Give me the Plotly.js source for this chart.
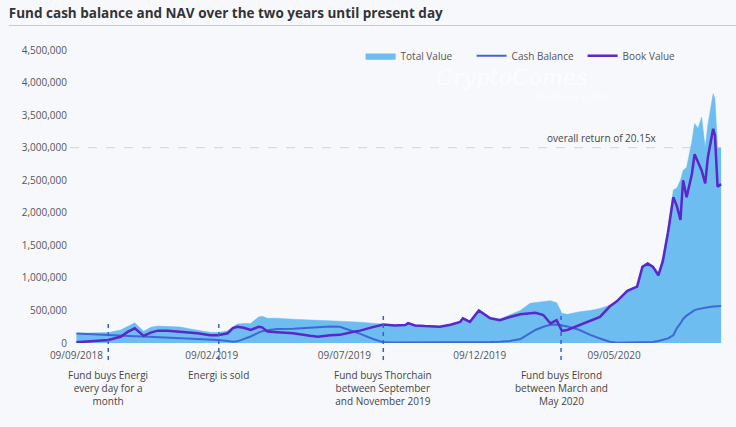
<!DOCTYPE html>
<html>
<head>
<meta charset="utf-8">
<script src="https://cdn.plot.ly/plotly-3.0.1.min.js"></script>
<style>
html,body{margin:0;padding:0;background:#f7f8fc;}
#chart{width:736px;height:427px;}
</style>
</head>
<body>
<div id="chart"></div>
<script>
const dates = ["2018-09-09","2018-09-25","2018-10-15","2018-10-29","2018-11-06","2018-11-14","2018-11-24","2018-12-02","2018-12-10","2018-12-21",
"2019-01-05","2019-01-16","2019-01-24","2019-02-07","2019-02-16","2019-02-27","2019-03-05","2019-03-10","2019-03-17","2019-03-25",
"2019-04-03","2019-04-07","2019-04-13","2019-04-24","2019-05-12","2019-05-31","2019-06-09","2019-06-23","2019-07-04","2019-07-18",
"2019-07-27","2019-08-09","2019-08-22","2019-09-04","2019-09-16","2019-09-19","2019-09-27","2019-10-08","2019-10-25","2019-11-06",
"2019-11-17","2019-11-20","2019-11-28","2019-12-08","2019-12-15","2019-12-21","2020-01-01","2020-01-12","2020-01-24","2020-02-04",
"2020-02-10","2020-02-19","2020-02-27","2020-03-05","2020-03-11","2020-03-17","2020-03-31","2020-04-12","2020-04-23","2020-05-04",
"2020-05-12","2020-05-24","2020-06-04","2020-06-10","2020-06-16","2020-06-22","2020-06-28","2020-07-03","2020-07-09","2020-07-15",
"2020-07-19","2020-07-23","2020-07-26","2020-07-30","2020-08-05","2020-08-08","2020-08-12","2020-08-16","2020-08-20","2020-08-23",
"2020-08-29","2020-08-31","2020-09-03","2020-09-07"];

const cashBalance = [145,138,125,115,110,105,100,95,90,82,
75,70,65,55,45,30,20,25,60,100,
160,180,195,215,220,235,250,255,250,190,
140,70,10,8,8,8,8,8,8,8,
10,10,10,10,12,15,20,30,60,150,
200,250,280,285,270,255,200,125,70,20,
5,5,5,5,5,15,30,50,70,120,
230,300,370,420,480,505,520,535,545,550,
560,562,565,570].map(v => v*1000);

const bookValue = [10,25,45,95,170,225,110,160,190,190,
175,165,150,120,120,150,230,250,235,200,
250,240,175,165,150,110,95,120,125,170,
190,240,285,270,275,305,270,260,250,280,
325,380,325,500,430,380,350,400,440,460,
465,430,300,350,185,200,275,350,400,560,
640,800,865,1170,1220,1170,1040,1250,1700,2240,
2100,1890,2500,2240,2600,2900,2760,2650,2450,2850,
3290,3190,2400,2440].map(v => v*1000);

const totalValue = [150,155,160,200,250,310,180,240,260,250,
245,215,200,165,160,190,250,290,300,300,
400,410,380,380,365,350,345,340,335,330,
320,305,290,275,280,310,275,265,255,285,
330,385,330,505,440,390,370,430,500,610,
620,640,650,620,455,440,480,500,530,580,
640,810,870,1180,1230,1190,1080,1330,1780,2350,
2380,2500,2650,2700,3100,3370,3300,3470,3000,3350,
3830,3750,3000,3000].map(v => v*1000);

const tickDates = ["2018-09-09","2019-02-09","2019-07-09","2019-12-09","2020-05-09"];
const tickLabels = ["09/09/2018","09/02/2019","09/07/2019","09/12/2019","09/05/2020"];
const yTicks = [0,500000,1000000,1500000,2000000,2500000,3000000,3500000,4000000,4500000];
const yTickLabels = ["0","500,000","1,000,000","1,500,000","2,000,000","2,500,000","3,000,000","3,500,000","4,000,000","4,500,000"];

const eventDates = ["2018-10-15","2019-02-17","2019-08-22","2020-03-10"];
const eventLabels = ["Fund buys Energi<br>every day for a<br>month","Energi is sold","Fund buys Thorchain<br>between September<br>and November 2019","Fund buys Elrond<br>between March and<br>May 2020"];
const eventTops = [0.068,0.068,0.105,0.105];

const returnLevel = 3000000;
const returnLabel = "overall return of 20.15x";
const returnLabelDate = "2020-04-25";

const FONT = "Open Sans, sans-serif";

const traces = [
  {x: dates, y: totalValue, name: "Total Value", type: "scatter", mode: "lines",
   fill: "tozeroy", fillcolor: "#6dbdf0", line: {color: "#6dbdf0", width: 0.5}},
  {x: dates, y: cashBalance, name: "Cash Balance", type: "scatter", mode: "lines",
   line: {color: "#4167d6", width: 2}},
  {x: dates, y: bookValue, name: "Book Value", type: "scatter", mode: "lines",
   line: {color: "#5a27c9", width: 2.5}}
];

const shapes = [
  {type: "line", xref: "paper", yref: "paper", x0: -0.097, x1: 1.03, y0: 1.0836, y1: 1.0836,
   line: {color: "#c9cbd2", width: 1}},
  {type: "line", xref: "paper", yref: "y", x0: -0.003, x1: 0.99, y0: returnLevel, y1: returnLevel,
   line: {color: "#cfd3dc", width: 1, dash: "dash"}, layer: "below"}
];
eventDates.forEach((d, i) => {
  shapes.push({type: "line", xref: "x", yref: "paper", x0: d, x1: d, y0: -0.058, y1: eventTops[i],
    line: {color: "#3b5fcf", width: 1.5, dash: "4px,4px"}});
});

const annotations = [
  {xref: "x", yref: "y", x: returnLabelDate, y: returnLevel, text: returnLabel, showarrow: false,
   yanchor: "bottom", yshift: 1, font: {family: FONT, size: 10, color: "#444"}},
  {xref: "paper", yref: "paper", x: 0.795, y: 0.905, text: "<i>CryptoComes</i>", showarrow: false,
   yanchor: "middle", font: {family: "DejaVu Serif, serif", size: 22, color: "rgba(255,255,255,0.7)"}},
  {xref: "paper", yref: "paper", x: 0.83, y: 0.84, text: "The future is here", showarrow: false,
   yanchor: "middle", font: {family: FONT, size: 9, color: "rgba(255,255,255,0.7)"}}
];
eventDates.forEach((d, i) => {
  annotations.push({xref: "x", yref: "paper", x: d, y: -0.078, yanchor: "top", text: eventLabels[i],
    showarrow: false, align: "center", font: {family: FONT, size: 10, color: "#444"}});
});

const layout = {
  width: 736, height: 427,
  paper_bgcolor: "#f7f8fc", plot_bgcolor: "#f7f8fc",
  margin: {l: 72, r: 14, t: 50, b: 84},
  title: {text: "<b>Fund cash balance and NAV over the two years until present day</b>",
    x: 0.012, xanchor: "left", y: 0.97, yanchor: "middle", yref: "container",
    font: {family: FONT, size: 13.5, color: "#333"}},
  showlegend: true,
  legend: {orientation: "h", x: 0.444, xanchor: "left", y: 0.98, yanchor: "middle",
    bgcolor: "rgba(0,0,0,0)", font: {family: FONT, size: 10, color: "#555"}, traceorder: "normal",
    itemwidth: 30, entrywidth: 66, entrywidthmode: "pixels"},
  xaxis: {type: "date", range: ["2018-09-04", "2020-09-08"], tickvals: tickDates, ticktext: tickLabels,
    showgrid: false, zeroline: false, showline: false, ticks: "", ticklabelstandoff: 5,
    tickfont: {family: FONT, size: 10, color: "#555"}},
  yaxis: {range: [0, 4500000], tickvals: yTicks, ticktext: yTickLabels, showgrid: false,
    zeroline: false, showline: false, ticks: "", ticklabelstandoff: 4,
    tickfont: {family: FONT, size: 10, color: "#555"}},
  shapes: shapes,
  annotations: annotations
};

Plotly.newPlot("chart", traces, layout, {displayModeBar: false, staticPlot: true});
</script>
</body>
</html>
